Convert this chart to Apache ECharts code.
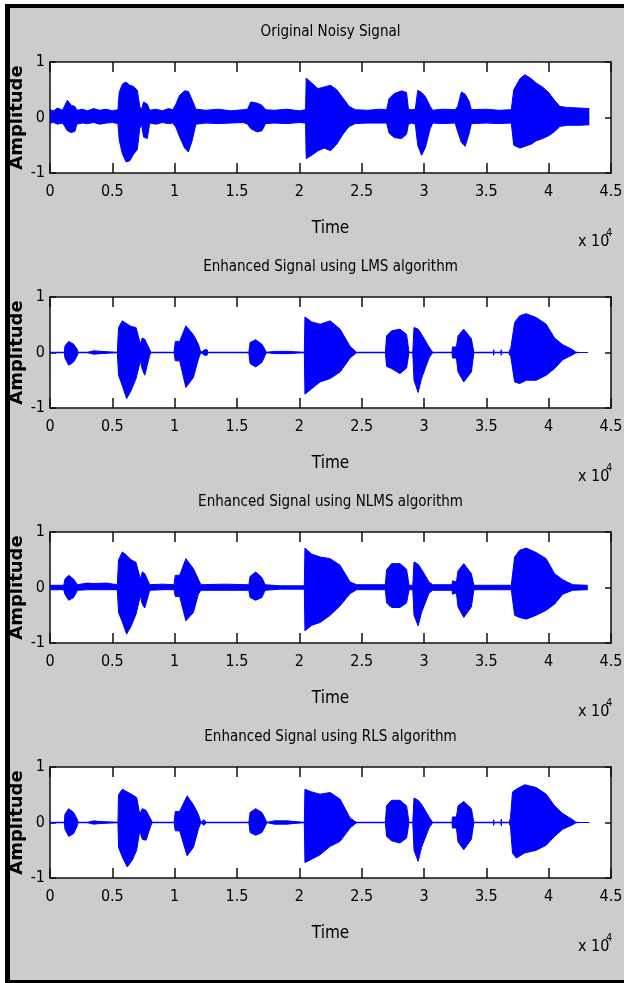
<!DOCTYPE html>
<html><head><meta charset="utf-8">
<script src="https://cdn.jsdelivr.net/npm/echarts@6/dist/echarts.min.js"></script>
<style>html,body{margin:0;padding:0;background:#fff}#c{width:624px;height:983px}</style>
</head><body><div id="c"></div>
<script>
// ---------- DATA (time in samples, envelope amplitudes) ----------
const panelTitles = ['Original Noisy Signal','Enhanced Signal using LMS algorithm','Enhanced Signal using NLMS algorithm','Enhanced Signal using RLS algorithm'];
const xTickLabels = ['0','0.5','1','1.5','2','2.5','3','3.5','4','4.5'];
const yTickLabels = ['-1','0','1'];
const xName = 'Time';
const yName = 'Amplitude';

const noisyT  = [0,300,600,1000,1150,1400,1700,2000,2150,2600,3000,3500,4000,4500,5000,5450,5550,5800,6100,6400,6700,7000,7200,7350,7500,7800,8000,8500,9000,9500,9850,10100,10400,10800,11100,11400,11700,12500,13500,14500,15500,15850,16100,16600,17000,17300,18000,19000,20000,20500,20550,21000,21500,22000,22500,23000,23500,24000,24500,25500,26500,27000,27200,27600,28200,28600,28750,29000,29300,29500,29800,30100,30500,30700,31500,32500,32700,33000,33300,33600,33800,35000,36000,37000,37200,37700,38100,38600,39000,39500,40000,40500,40900,41500,42500,43260];
const noisyUp = [.14,.12,.17,.13,.20,.31,.22,.20,.13,.15,.12,.16,.13,.15,.12,.14,.45,.60,.64,.58,.56,.49,.20,.14,.28,.24,.13,.15,.12,.16,.14,.24,.40,.48,.47,.32,.15,.13,.15,.12,.14,.15,.28,.26,.22,.14,.13,.15,.12,.14,.71,.62,.52,.55,.58,.50,.35,.20,.14,.13,.15,.14,.34,.43,.48,.45,.15,.14,.15,.49,.45,.38,.20,.13,.15,.14,.20,.46,.42,.30,.14,.15,.13,.14,.50,.70,.77,.70,.62,.55,.45,.30,.20,.18,.17,.16];
const noisyLo = [-.10,-.09,-.12,-.10,-.15,-.24,-.27,-.25,-.12,-.10,-.11,-.09,-.12,-.10,-.09,-.11,-.40,-.65,-.80,-.78,-.66,-.58,-.20,-.12,-.35,-.38,-.10,-.12,-.09,-.11,-.10,-.18,-.35,-.55,-.62,-.42,-.12,-.10,-.11,-.10,-.09,-.12,-.20,-.26,-.24,-.11,-.10,-.11,-.09,-.10,-.74,-.68,-.60,-.55,-.60,-.48,-.30,-.16,-.11,-.10,-.10,-.10,-.28,-.36,-.38,-.30,-.12,-.10,-.12,-.50,-.68,-.55,-.20,-.10,-.11,-.10,-.25,-.45,-.52,-.30,-.11,-.10,-.11,-.10,-.50,-.55,-.52,-.48,-.42,-.38,-.33,-.25,-.16,-.14,-.14,-.13];

const lmsT  = [0,1150,1200,1500,1900,2200,2250,3000,3050,3500,3550,5400,5500,5800,6150,6500,6900,7250,7400,7600,8000,8100,9950,10050,10400,10900,11500,11900,12100,12400,12600,12650,15950,16050,16500,17000,17250,17350,18000,19200,19300,20400,20450,21000,21670,22470,23270,24070,24600,26900,27000,27400,28070,28600,28800,29100,29200,29530,29800,30400,30700,32250,32280,32600,32730,33190,33800,34000,35550,35590,35630,36160,36200,36240,36830,36870,36910,37000,37270,37670,38200,39000,39800,40470,41130,41930,42200,43130];
const lmsUp = [0,0,.12,.20,.15,.05,0,0,.03,.03,0,0,.45,.57,.52,.47,.45,.15,.26,.24,.05,0,0,.20,.20,.48,.32,.15,0,.05,.05,0,0,.18,.23,.15,.05,0,.02,.02,0,0,.64,.55,.51,.57,.42,.11,0,0,.30,.39,.42,.33,0,0,.45,.42,.33,.10,0,0,.10,.10,.30,.42,.25,0,0,.05,0,0,.05,0,0,.05,0,0,.54,.66,.70,.63,.51,.26,.14,.05,0,0];
const lmsLo = [0,0,-.10,-.23,-.17,-.05,0,0,-.03,-.03,0,0,-.41,-.60,-.83,-.69,-.47,-.15,-.30,-.41,-.05,0,0,-.15,-.15,-.63,-.45,-.12,0,-.05,-.05,0,0,-.20,-.26,-.18,-.05,0,-.02,-.02,0,0,-.75,-.65,-.53,-.47,-.35,-.10,0,0,-.25,-.29,-.38,-.28,0,0,-.50,-.72,-.47,-.10,0,0,-.10,-.10,-.35,-.53,-.35,0,0,-.05,0,0,-.05,0,0,-.05,0,0,-.53,-.56,-.50,-.50,-.41,-.29,-.13,-.04,0,0];

const nlmsT  = [0,1100,1200,1500,1900,2200,3000,3500,4500,5400,5500,5800,6150,6500,6900,7250,7400,7600,8000,9000,9950,10050,10400,10900,11500,11900,12100,14000,15950,16050,16500,17000,17250,18500,20400,20450,21000,21670,22470,23270,24070,24600,26900,27000,27400,28070,28600,28800,29100,29200,29530,29800,30400,30700,32250,32280,32600,32730,33190,33800,34000,37000,37270,37670,38200,39000,39800,40470,41130,41930,43130];
const nlmsUp = [.04,.04,.15,.22,.15,.05,.08,.07,.08,.05,.50,.64,.58,.50,.45,.15,.28,.25,.05,.06,.05,.22,.22,.52,.34,.15,.05,.06,.05,.20,.28,.18,.05,.03,.03,.71,.60,.55,.52,.40,.10,.05,.05,.32,.43,.43,.33,.04,.04,.46,.42,.33,.10,.05,.05,.12,.10,.30,.43,.25,.04,.04,.55,.67,.71,.63,.52,.25,.14,.05,.04];
const nlmsLo = [-.04,-.04,-.12,-.23,-.18,-.05,-.04,-.04,-.04,-.04,-.45,-.62,-.84,-.70,-.48,-.15,-.30,-.37,-.05,-.04,-.04,-.16,-.16,-.60,-.45,-.12,-.05,-.05,-.05,-.18,-.23,-.18,-.05,-.03,-.03,-.78,-.68,-.63,-.50,-.33,-.11,-.04,-.04,-.28,-.36,-.36,-.28,-.04,-.04,-.50,-.69,-.45,-.10,-.05,-.05,-.12,-.10,-.35,-.54,-.35,-.04,-.04,-.50,-.54,-.57,-.50,-.41,-.30,-.12,-.05,-.04];

const rlsT  = [0,1150,1200,1500,1900,2200,2250,3000,3050,3500,3900,3950,5450,5500,5800,6200,6600,6950,7200,7400,7700,8100,8200,9950,10050,10400,11000,11500,11900,12100,12350,12500,12550,15950,16050,16500,17000,17300,17400,18000,19000,19100,20400,20450,21000,21670,22470,23270,24070,24600,26900,27000,27400,28070,28600,28800,29100,29200,29530,29800,30400,30700,32250,32280,32600,32730,33190,33800,34000,35550,35590,35630,36160,36200,36240,36830,36870,36910,37000,37100,37400,38070,39000,39800,40470,41130,41930,42200,43260];
const rlsUp = [0,0,.15,.25,.18,.05,0,0,.03,.03,.02,0,0,.50,.60,.55,.50,.45,.15,.25,.22,.05,0,0,.20,.20,.48,.32,.15,0,.05,.05,0,0,.18,.25,.18,.05,0,.03,.03,0,0,.60,.55,.51,.54,.42,.08,0,0,.30,.40,.40,.30,0,0,.44,.40,.33,.10,0,0,.10,.10,.30,.38,.25,0,0,.05,0,0,.06,0,0,.05,0,0,.55,.60,.68,.63,.51,.30,.16,.05,0,0];
const rlsLo = [0,0,-.12,-.25,-.20,-.05,0,0,-.03,-.03,-.02,0,0,-.45,-.62,-.80,-.68,-.50,-.15,-.30,-.32,-.05,0,0,-.15,-.15,-.60,-.45,-.12,0,-.05,-.05,0,0,-.18,-.23,-.18,-.05,0,-.03,-.03,0,0,-.72,-.66,-.58,-.43,-.34,-.10,0,0,-.25,-.33,-.37,-.28,0,0,-.50,-.70,-.45,-.10,0,0,-.10,-.10,-.35,-.49,-.30,0,0,-.05,0,0,-.06,0,0,-.05,0,0,-.55,-.64,-.55,-.50,-.41,-.25,-.12,-.04,0,0];

const panels = [
  {t: noisyT, up: noisyUp, lo: noisyLo},
  {t: lmsT,   up: lmsUp,   lo: lmsLo},
  {t: nlmsT,  up: nlmsUp,  lo: nlmsLo},
  {t: rlsT,   up: rlsUp,   lo: rlsLo}
];

// ---------- LAYOUT / STYLE ----------
const W = 624, H = 983;
const BOX_L = 50, BOX_R = 611, BOX_H = 111;
const boxTops = [62, 297, 532, 767];
const NARROW = "'DejaVu Sans Condensed','Liberation Sans Narrow','Arial Narrow',sans-serif";
const BOLD = "'DejaVu Sans',sans-serif";
const BLUE = '#0000ff';
const AX = '#111';

const grid = [], xAxis = [], yAxis = [], series = [], title = [], graphic = [];

graphic.push(
  {type:'rect', shape:{x:0,y:0,width:W,height:4}, style:{fill:'#fff'}, z:100},
  {type:'rect', shape:{x:0,y:0,width:5,height:H}, style:{fill:'#fff'}, z:100},
  {type:'rect', shape:{x:5,y:4,width:W-5,height:4}, style:{fill:'#000'}, z:100},
  {type:'rect', shape:{x:5,y:4,width:5,height:H-4}, style:{fill:'#000'}, z:100},
  {type:'rect', shape:{x:5,y:980,width:W-5,height:3}, style:{fill:'#000'}, z:100}
);

panels.forEach((p, i) => {
  const top = boxTops[i];
  const bottom = top + BOX_H;
  grid.push({left: BOX_L, top: top, width: BOX_R - BOX_L, height: BOX_H,
             containLabel: false, outerBoundsMode: 'none',
             show: true, backgroundColor: '#fff', borderWidth: 0});
  const xBase = {gridIndex: i, type: 'value', min: 0, max: 45000, interval: 5000,
    splitLine: {show: false},
    axisLine: {show: true, onZero: false, lineStyle: {color: AX, width: 1.5}},
    axisTick: {show: true, inside: true, length: 10, lineStyle: {color: AX, width: 1.5}}};
  xAxis.push(Object.assign({}, xBase, {position: 'bottom',
    name: xName, nameLocation: 'middle', nameGap: 47, nameMoveOverlap: false,
    nameTextStyle: {fontFamily: NARROW, fontSize: 17, color: '#000'},
    axisLabel: {show: true, margin: 11, fontFamily: NARROW, fontSize: 16, color: '#000',
      formatter: v => xTickLabels[Math.round(v / 5000)]}}));
  xAxis.push(Object.assign({}, xBase, {position: 'top', axisLabel: {show: false}}));
  const yBase = {gridIndex: i, type: 'value', min: -1, max: 1, interval: 1,
    splitLine: {show: false},
    axisLine: {show: true, onZero: false, lineStyle: {color: AX, width: 1.5}},
    axisTick: {show: true, inside: true, length: 6, lineStyle: {color: AX, width: 1.5}}};
  yAxis.push(Object.assign({}, yBase, {position: 'left',
    name: yName, nameLocation: 'middle', nameRotate: 90, nameGap: 24, nameMoveOverlap: false,
    nameTextStyle: {fontFamily: BOLD, fontWeight: 'bold', fontSize: 18, color: '#000'},
    axisLabel: {show: true, margin: 5, fontFamily: NARROW, fontSize: 16, color: '#000',
      formatter: v => yTickLabels[Math.round(v) + 1]}}));
  yAxis.push(Object.assign({}, yBase, {position: 'right', axisLabel: {show: false}}));

  series.push({type: 'line', name: 'upper' + i, xAxisIndex: i * 2, yAxisIndex: i * 2,
    symbol: 'none', showSymbol: false, silent: true,
    lineStyle: {color: BLUE, width: 1}, itemStyle: {color: BLUE},
    areaStyle: {color: BLUE, opacity: 1, origin: -0.015},
    data: p.t.map((t, k) => [t, p.up[k]])});
  series.push({type: 'line', name: 'lower' + i, xAxisIndex: i * 2, yAxisIndex: i * 2,
    symbol: 'none', showSymbol: false, silent: true,
    lineStyle: {color: BLUE, width: 1}, itemStyle: {color: BLUE},
    areaStyle: {color: BLUE, opacity: 1, origin: 0.015},
    data: p.t.map((t, k) => [t, p.lo[k]])});

  title.push({text: panelTitles[i], left: (BOX_L + BOX_R) / 2, top: top - 37, textAlign: 'center',
    padding: 0, textStyle: {fontFamily: NARROW, fontSize: 15, fontWeight: 'normal', color: '#000'}});

  graphic.push({type: 'text', x: 578, y: bottom + 69, style: {text: 'x 10', fontFamily: NARROW,
    fontSize: 16, fill: '#000', verticalAlign: 'middle', align: 'left'}});
  graphic.push({type: 'text', x: 606, y: bottom + 60, style: {text: '4', fontFamily: NARROW,
    fontSize: 11, fill: '#000', verticalAlign: 'middle', align: 'left'}});
});

const chart = echarts.init(document.getElementById('c'), null, {renderer: 'canvas'});
chart.setOption({
  backgroundColor: '#cccccc',
  animation: false,
  title, grid, xAxis, yAxis, series, graphic
});
</script></body></html>
